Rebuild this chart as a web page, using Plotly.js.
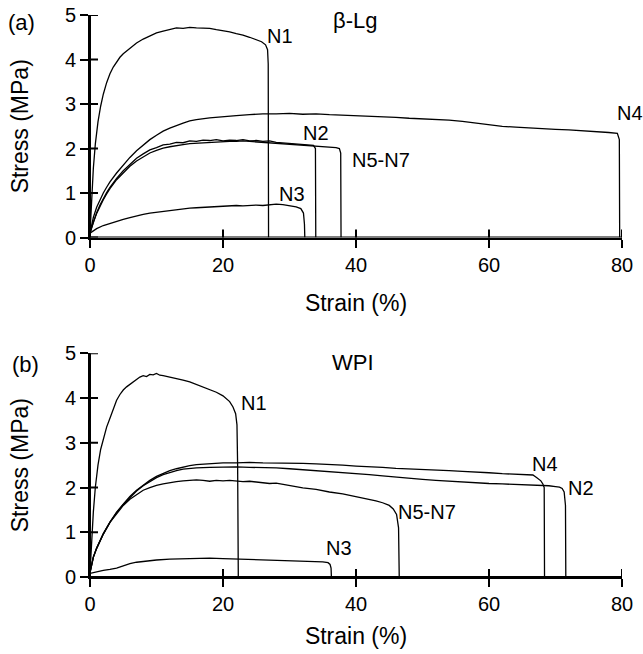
<!DOCTYPE html>
<html>
<head>
<meta charset="utf-8">
<script src="https://cdn.plot.ly/plotly-3.0.1.min.js"></script>
<style>
html,body{margin:0;padding:0;background:#fff;}
#chart{width:643px;height:654px;}
</style>
</head>
<body>
<div id="chart"></div>
<script>
// ---------- (a) beta-Lg ----------
const a_N1_x = [0,0.2,0.5,0.8,1.2,1.6,2,2.5,3,3.5,4,4.5,5,6,7,8,9,10,11,12,13,14,15,16,17,18,19,20,21,22,23,24,25,25.8,26.4,26.7,26.8,26.85];
const a_N1_y = [0.1,0.8,1.55,2.1,2.6,2.95,3.22,3.48,3.68,3.83,3.95,4.05,4.13,4.26,4.37,4.46,4.53,4.6,4.64,4.68,4.71,4.70,4.72,4.71,4.70,4.70,4.67,4.65,4.62,4.58,4.55,4.50,4.45,4.40,4.33,4.22,3.9,0];

const a_N4_x = [0,0.5,1,1.5,2,2.5,3,4,5,6,7,8,9,10,11,12,13,14,15,16,18,20,22,24,26,28,30,32,34,36,38,40,42,44,46,48,50,52,54,56,58,60,62,64,66,68,70,72,74,76,78,79.3,79.6,79.65];
const a_N4_y = [0.1,0.45,0.68,0.86,1.0,1.13,1.25,1.45,1.63,1.8,1.95,2.08,2.2,2.3,2.39,2.46,2.52,2.57,2.62,2.65,2.69,2.72,2.74,2.76,2.78,2.78,2.79,2.77,2.78,2.76,2.75,2.73,2.72,2.71,2.70,2.68,2.67,2.66,2.64,2.61,2.57,2.53,2.50,2.48,2.46,2.45,2.43,2.42,2.40,2.39,2.36,2.34,2.2,0];

const a_N2_x = [0,0.5,1,1.5,2,2.5,3,4,5,6,7,8,9,10,11,12,13,14,15,16,17,18,19,20,21,22,23,24,25,26,27,28,29,30,31,32,33,33.6,33.9,33.95];
const a_N2_y = [0.1,0.36,0.56,0.73,0.88,1.01,1.13,1.33,1.5,1.64,1.78,1.88,1.97,2.02,2.08,2.10,2.14,2.13,2.17,2.16,2.19,2.18,2.20,2.17,2.19,2.18,2.20,2.17,2.18,2.16,2.17,2.14,2.13,2.12,2.11,2.10,2.09,2.07,2.0,0];

const a_N57_x = [0,0.5,1,1.5,2,2.5,3,4,5,6,7,8,9,10,11,12,13,14,15,16,17,18,19,20,21,22,23,24,25,26,27,28,29,30,31,32,33,34,35,36,37,37.5,37.7,37.75];
const a_N57_y = [0.1,0.35,0.54,0.7,0.85,0.98,1.1,1.3,1.46,1.6,1.72,1.82,1.9,1.96,2.01,2.04,2.07,2.09,2.11,2.12,2.13,2.14,2.15,2.15,2.16,2.16,2.17,2.16,2.15,2.14,2.13,2.12,2.11,2.10,2.09,2.08,2.07,2.06,2.05,2.04,2.02,2.0,1.9,0];

const a_N3_x = [0,0.5,1,2,3,4,5,6,7,8,9,10,11,12,13,14,15,16,17,18,19,20,21,22,23,24,25,26,27,28,29,30,31,31.7,32.1,32.25,32.3];
const a_N3_y = [0.1,0.15,0.2,0.27,0.32,0.36,0.41,0.45,0.49,0.52,0.55,0.57,0.59,0.61,0.63,0.64,0.66,0.67,0.68,0.69,0.70,0.70,0.71,0.72,0.71,0.72,0.73,0.72,0.73,0.75,0.74,0.72,0.69,0.65,0.55,0.3,0];

// ---------- (b) WPI ----------
const b_N1_x = [0,0.2,0.5,0.8,1.2,1.6,2,2.5,3,3.5,4,4.5,5,5.5,6,6.5,7,7.5,8,8.5,9,9.5,10,10.5,11,12,13,14,15,16,17,18,19,20,20.5,21,21.5,21.9,22.1,22.2,22.3];
const b_N1_y = [0.1,0.7,1.45,2.0,2.5,2.85,3.1,3.35,3.55,3.75,3.95,4.08,4.18,4.25,4.3,4.36,4.42,4.47,4.50,4.48,4.53,4.52,4.55,4.51,4.50,4.47,4.43,4.40,4.36,4.30,4.25,4.19,4.13,4.05,3.99,3.92,3.8,3.65,3.4,2.5,0];

const b_N4_x = [0,0.5,1,1.5,2,3,4,5,6,7,8,9,10,11,12,13,14,15,16,18,20,22,24,26,28,30,32,34,36,38,40,42,44,46,48,50,52,54,56,58,60,62,64,66,66.6,67.2,67.8,68.1,68.3,68.35];
const b_N4_y = [0.1,0.45,0.65,0.82,0.97,1.23,1.45,1.63,1.8,1.94,2.06,2.16,2.25,2.32,2.38,2.42,2.46,2.49,2.51,2.53,2.55,2.55,2.56,2.55,2.55,2.54,2.54,2.53,2.52,2.50,2.48,2.47,2.45,2.43,2.42,2.41,2.39,2.38,2.36,2.35,2.33,2.31,2.30,2.29,2.28,2.22,2.15,2.08,2.0,0];

const b_N2_x = [0,0.5,1,1.5,2,3,4,5,6,7,8,9,10,11,12,13,14,16,18,20,22,24,26,28,30,32,34,36,38,40,42,44,46,48,50,52,54,56,58,60,62,64,66,68,69,70,70.6,71.0,71.3,71.5,71.55];
const b_N2_y = [0.1,0.44,0.64,0.81,0.96,1.22,1.44,1.62,1.78,1.92,2.04,2.14,2.22,2.29,2.34,2.38,2.41,2.44,2.45,2.46,2.46,2.45,2.45,2.44,2.42,2.40,2.38,2.36,2.34,2.31,2.29,2.26,2.23,2.20,2.18,2.16,2.14,2.13,2.11,2.09,2.08,2.07,2.06,2.05,2.04,2.02,2.01,1.98,1.9,1.6,0];

const b_N57_x = [0,0.5,1,1.5,2,3,4,5,6,7,8,9,10,11,12,13,14,15,16,17,18,19,20,21,22,23,24,25,26,27,28,29,30,32,34,36,38,40,42,43,44,45,45.6,46.1,46.4,46.5];
const b_N57_y = [0.1,0.44,0.64,0.81,0.96,1.22,1.42,1.6,1.74,1.85,1.94,2.0,2.05,2.08,2.11,2.13,2.15,2.16,2.17,2.16,2.14,2.16,2.15,2.16,2.14,2.13,2.14,2.12,2.11,2.09,2.10,2.07,2.04,1.99,1.96,1.90,1.86,1.80,1.74,1.70,1.66,1.60,1.52,1.4,1.1,0];

const b_N3_x = [0,1,2,3,4,5,6,7,8,9,10,12,14,16,18,20,22,24,26,28,30,32,34,35,35.8,36.1,36.25,36.3];
const b_N3_y = [0.08,0.12,0.15,0.17,0.2,0.25,0.3,0.33,0.35,0.37,0.38,0.4,0.41,0.42,0.42,0.41,0.40,0.40,0.39,0.38,0.36,0.35,0.34,0.34,0.32,0.28,0.2,0];

// ---------- ticks / titles ----------
const xTicks = [0,20,40,60,80];
const yTicks = [0,1,2,3,4,5];
const xRange = [0,80];
const yRange = [0,5];
const xTitle = 'Strain (%)';
const yTitle = 'Stress (MPa)';

const FONT = 'Liberation Sans, Arial, Helvetica, sans-serif';
const W = 643, H = 654;
const M = {l:90, r:21, t:15, b:77};
const domTop = [0.604,1], domBot = [0,0.398];
const lineStyle = {color:'#000', width:1.3};

function tr(x, y, name, xa, ya) {
  return {x:x, y:y, name:name, type:'scatter', mode:'lines', line:lineStyle, xaxis:xa, yaxis:ya};
}

// axis frame with crossing tick marks (8 px each side), built from the tick arrays
function frame(xa, ya, dom) {
  const pxPerX = (W - M.l - M.r) / (xRange[1] - xRange[0]);
  const pxPerY = (H - M.t - M.b) * (dom[1] - dom[0]) / (yRange[1] - yRange[0]);
  const dx = 8 / pxPerX, dy = 8 / pxPerY;
  const fx = [xRange[0], xRange[1], null, xRange[0], xRange[0], null];
  const fy = [yRange[0], yRange[0], null, yRange[0], yRange[1], null];
  xTicks.forEach(function(v){ fx.push(v, v, null); fy.push(yRange[0]-dy, yRange[0]+dy, null); });
  yTicks.forEach(function(v){ fx.push(xRange[0]-dx, xRange[0]+dx, null); fy.push(v, v, null); });
  return {x:fx, y:fy, type:'scatter', mode:'lines', name:'axes', xaxis:xa, yaxis:ya,
          line:{color:'#000', width:2}, cliponaxis:false, connectgaps:false, hoverinfo:'skip'};
}

const traces = [
  tr(a_N1_x, a_N1_y, 'β-Lg N1', 'x', 'y'),
  tr(a_N4_x, a_N4_y, 'β-Lg N4', 'x', 'y'),
  tr(a_N2_x, a_N2_y, 'β-Lg N2', 'x', 'y'),
  tr(a_N57_x, a_N57_y, 'β-Lg N5-N7', 'x', 'y'),
  tr(a_N3_x, a_N3_y, 'β-Lg N3', 'x', 'y'),
  tr(b_N1_x, b_N1_y, 'WPI N1', 'x2', 'y2'),
  tr(b_N4_x, b_N4_y, 'WPI N4', 'x2', 'y2'),
  tr(b_N2_x, b_N2_y, 'WPI N2', 'x2', 'y2'),
  tr(b_N57_x, b_N57_y, 'WPI N5-N7', 'x2', 'y2'),
  tr(b_N3_x, b_N3_y, 'WPI N3', 'x2', 'y2'),
  frame('x', 'y', domTop),
  frame('x2', 'y2', domBot)
];

function xAxis(anchor, so) {
  return {range:xRange, tickvals:xTicks, domain:[0,1], anchor:anchor, layer:'below traces',
    showgrid:false, zeroline:false, showline:true, linecolor:'#000', linewidth:2,
    ticks:'outside', ticklen:8, tickwidth:2, tickcolor:'#000',
    tickfont:{family:FONT, size:20, color:'#000'},
    title:{text:xTitle, font:{family:FONT, size:23, color:'#000'}, standoff:so}};
}
function yAxis(dom, anchor) {
  return {range:yRange, tickvals:yTicks, domain:dom, anchor:anchor, layer:'below traces',
    showgrid:false, zeroline:false, showline:true, linecolor:'#000', linewidth:2,
    ticks:'outside', ticklen:8, tickwidth:2, tickcolor:'#000',
    tickfont:{family:FONT, size:20, color:'#000'},
    title:{text:yTitle, font:{family:FONT, size:23, color:'#000'}, standoff:30}};
}

const layout = {
  width:W, height:H,
  margin:M,
  showlegend:false,
  xaxis: xAxis('y', 20),
  yaxis: yAxis(domTop, 'x'),
  xaxis2: xAxis('y2', 14),
  yaxis2: yAxis(domBot, 'x2'),
  annotations: []
};

function ann(text, x, y, xr, yr, size, xanchor) {
  return {text:text, x:x, y:y, xref:xr, yref:yr, showarrow:false,
          xanchor:xanchor||'center', yanchor:'middle',
          font:{family:FONT, size:size, color:'#000'}};
}
layout.annotations.push(
  ann('(a)', -0.128, 0.986, 'paper', 'paper', 22),
  ann('β-Lg', 39.8, 4.87, 'x', 'y', 22),
  ann('N1', 28.6, 4.53, 'x', 'y', 20),
  ann('N2', 34.0, 2.35, 'x', 'y', 20),
  ann('N5-N7', 43.8, 1.74, 'x', 'y', 20),
  ann('N3', 30.3, 0.98, 'x', 'y', 20),
  ann('N4', 78.9, 2.80, 'x', 'y', 20, 'left'),
  ann('(b)', -0.122, 0.379, 'paper', 'paper', 22),
  ann('WPI', 39.5, 4.79, 'x2', 'y2', 22),
  ann('N1', 24.7, 3.89, 'x2', 'y2', 20),
  ann('N4', 68.4, 2.52, 'x2', 'y2', 20),
  ann('N2', 73.9, 1.99, 'x2', 'y2', 20),
  ann('N5-N7', 50.75, 1.45, 'x2', 'y2', 20),
  ann('N3', 37.4, 0.64, 'x2', 'y2', 20)
);

Plotly.newPlot('chart', traces, layout, {staticPlot:true});
</script>
</body>
</html>
